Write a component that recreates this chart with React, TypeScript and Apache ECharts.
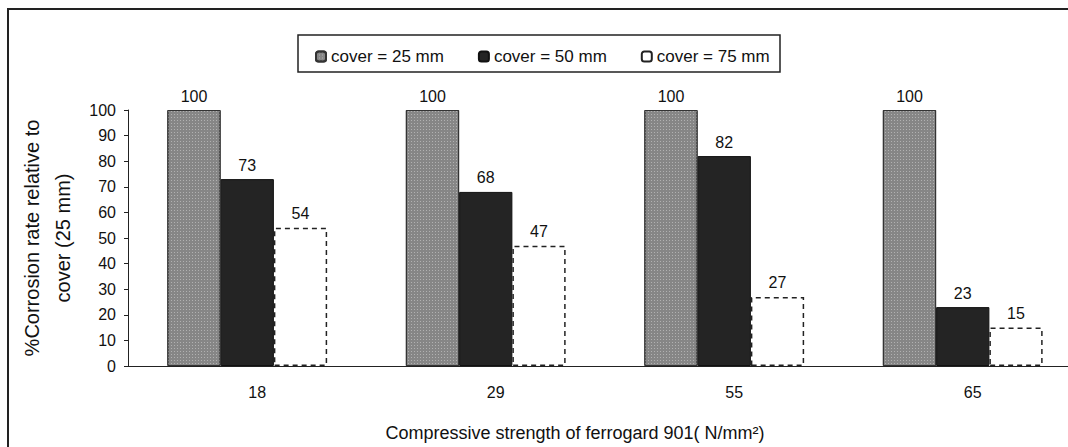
import React, { useEffect, useRef } from "react";
import * as echarts from "echarts";

const categories = ["18", "29", "55", "65"];
const seriesNames = ["cover = 25 mm", "cover = 50 mm", "cover = 75 mm"];
const cover25 = [100, 100, 100, 100];
const cover50 = [73, 68, 82, 23];
const cover75 = [54, 47, 27, 15];
const yTicks = { min: 0, max: 100, interval: 10 };
const xTitle = "Compressive strength of ferrogard 901( N/mm²)";
const yTitle = "%Corrosion rate relative to\ncover (25 mm)";

const FONT = "Liberation Sans, Arial, sans-serif";

export default function App() {
  const ref = useRef<HTMLDivElement>(null);
  useEffect(() => {
    if (!ref.current) return;
    const chart = echarts.init(ref.current, null, { renderer: "svg" });
    const label = {
      show: true,
      position: "top" as const,
      distance: 6,
      color: "#111",
      fontFamily: FONT,
      fontSize: 16,
    };
    chart.setOption({
      animation: false,
      backgroundColor: "#ffffff",
      textStyle: { fontFamily: FONT },
      grid: { left: 128, right: 0, top: 110, height: 257, containLabel: false },
      legend: {
        left: 310,
        top: 43,
        itemWidth: 10,
        itemHeight: 10,
        itemGap: 34,
        textStyle: { fontFamily: FONT, fontSize: 17, color: "#111" },
        data: seriesNames,
      },
      xAxis: {
        type: "category",
        data: categories,
        axisLine: { lineStyle: { color: "#222", width: 1 } },
        axisTick: { show: false },
        axisLabel: { color: "#111", fontSize: 16, fontFamily: FONT, margin: 18, padding: [0, 0, 0, 20] },
        name: xTitle,
        nameLocation: "middle",
        nameGap: 58,
        nameTextStyle: { fontSize: 18, color: "#111", fontFamily: FONT, padding: [0, 60, 0, 0] },
      },
      yAxis: {
        type: "value",
        min: yTicks.min,
        max: yTicks.max,
        interval: yTicks.interval,
        splitLine: { show: false },
        axisLine: { show: true, lineStyle: { color: "#222", width: 1 } },
        axisTick: { show: true, length: 4, lineStyle: { color: "#222" } },
        axisLabel: { color: "#111", fontSize: 16, fontFamily: FONT, margin: 12 },
        name: yTitle,
        nameLocation: "middle",
        nameGap: 39,
        nameTextStyle: { fontSize: 20, color: "#111", fontFamily: FONT, lineHeight: 31 },
      },
      series: [
        {
          name: seriesNames[0],
          type: "bar",
          data: cover25,
          barGap: "0%",
          barCategoryGap: "33%",
          label,
          itemStyle: {
            color: "#868686",
            borderColor: "#333",
            borderWidth: 1,
            decal: {
              symbol: "rect",
              symbolSize: 1,
              color: "rgba(205,205,205,0.6)",
              dashArrayX: [1, 2],
              dashArrayY: [1, 2],
            },
          },
        },
        {
          name: seriesNames[1],
          type: "bar",
          data: cover50,
          label,
          itemStyle: { color: "#242424", borderColor: "#111", borderWidth: 1 },
        },
        {
          name: seriesNames[2],
          type: "bar",
          data: cover75,
          label,
          itemStyle: {
            color: "#ffffff",
            borderColor: "#222",
            borderWidth: 1.5,
            borderType: [5, 4],
          },
        },
      ],
      graphic: [
        {
          type: "polyline",
          shape: { points: [[8, 447], [8, 9], [1082, 9]] },
          style: { stroke: "#222", lineWidth: 2, fill: "none" },
          silent: true,
        },
        {
          type: "rect",
          shape: { x: 298, y: 35, width: 482, height: 37 },
          style: { stroke: "#222", lineWidth: 1.5, fill: "none" },
          silent: true,
          z: -1,
        },
      ],
    });
    return () => chart.dispose();
  }, []);
  return (
    <div
      ref={ref}
      style={{ position: "fixed", left: 0, top: 0, width: 1082, height: 447 }}
    />
  );
}
